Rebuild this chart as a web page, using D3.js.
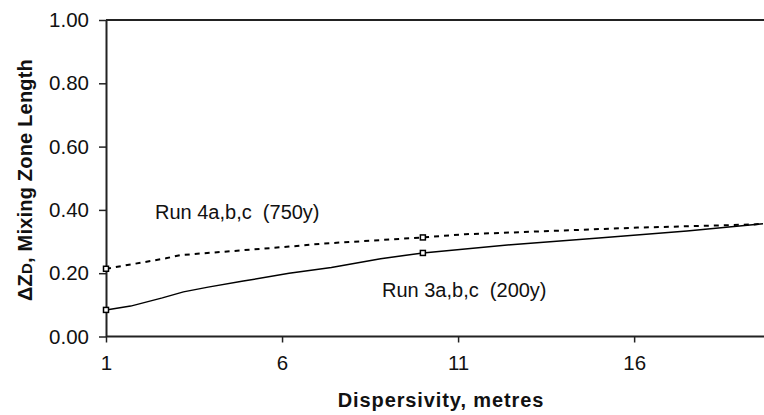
<!DOCTYPE html>
<html>
<head>
<meta charset="utf-8">
<script src="https://cdn.jsdelivr.net/npm/d3@7"></script>
<style>
  body { margin: 0; background: #fff; }
  svg { display: block; font-family: "Liberation Sans", Arial, sans-serif; }
</style>
</head>
<body>
<div id="chart"></div>
<script>
// ---------------- DATA ----------------
const run3X = [1, 1.7, 2.6, 3.2, 3.9, 4.9, 6.2, 7.4, 8.8, 10, 12.5, 15, 17.5, 19.66];
const run3Y = [0.084, 0.096, 0.122, 0.141, 0.156, 0.175, 0.200, 0.218, 0.246, 0.264, 0.290, 0.311, 0.333, 0.356];
const run4X = [1, 2.7, 3.1, 6.2, 7.1, 10, 11.2, 16.1, 19.4, 19.66];
const run4Y = [0.214, 0.247, 0.257, 0.284, 0.293, 0.313, 0.323, 0.344, 0.354, 0.357];
const markerX = [1, 10];
const xTicks = [1, 6, 11, 16];
const yTicks = [0, 0.2, 0.4, 0.6, 0.8, 1.0];
const run3Label = "Run 3a,b,c  (200y)";
const run4Label = "Run 4a,b,c  (750y)";

const run3 = run3X.map((x, i) => ({x, y: run3Y[i]}));
const run4 = run4X.map((x, i) => ({x, y: run4Y[i]}));

// ---------------- LAYOUT ----------------
const width = 764, height = 415;
const margin = {top: 20, right: 1, bottom: 78.5, left: 106};

const x = d3.scaleLinear().domain([1, 19.66]).range([margin.left, width - margin.right]);
const y = d3.scaleLinear().domain([0, 1]).range([height - margin.bottom, margin.top]);

const svg = d3.select("#chart").append("svg")
  .attr("width", width)
  .attr("height", height);

// top border at 1.00
svg.append("line")
  .attr("x1", x(1)).attr("x2", width)
  .attr("y1", y(1)).attr("y2", y(1))
  .attr("stroke", "#222").attr("stroke-width", 2);

// ---------------- AXES ----------------
const xAxis = svg.append("g")
  .attr("transform", `translate(0,${y(0)})`)
  .call(d3.axisBottom(x).tickValues(xTicks).tickSize(6).tickSizeOuter(0).tickPadding(13));

const yAxis = svg.append("g")
  .attr("transform", `translate(${x(1)},0)`)
  .call(d3.axisLeft(y).tickValues(yTicks).tickFormat(d3.format(".2f")).tickSize(7).tickSizeOuter(0).tickPadding(10));

[xAxis, yAxis].forEach(a => {
  a.select(".domain").attr("stroke", "#222").attr("stroke-width", 2);
  a.selectAll(".tick line").attr("stroke", "#222").attr("stroke-width", 1.5);
  a.selectAll(".tick text")
    .attr("fill", "#111")
    .style("font-size", "20.5px")
    .style("font-family", "'Liberation Sans', Arial, sans-serif");
});
xAxis.select(".domain").attr("d", `M${x(1)},0H${width}`);

// ---------------- LINES ----------------
const line = d3.line().x(d => x(d.x)).y(d => y(d.y));

svg.append("path")
  .datum(run3)
  .attr("d", line)
  .attr("fill", "none")
  .attr("stroke", "#000")
  .attr("stroke-width", 1.5);

svg.append("path")
  .datum(run4)
  .attr("d", line)
  .attr("fill", "none")
  .attr("stroke", "#000")
  .attr("stroke-width", 2)
  .attr("stroke-dasharray", "5,5");

// markers
[run3, run4].forEach(series => {
  svg.selectAll(null)
    .data(series.filter(d => markerX.includes(d.x)))
    .enter()
    .append("rect")
    .attr("x", d => x(d.x) - 2.5)
    .attr("y", d => y(d.y) - 2.5)
    .attr("width", 5)
    .attr("height", 5)
    .attr("fill", "#fff")
    .attr("stroke", "#000")
    .attr("stroke-width", 1.5);
});

// ---------------- LABELS ----------------
svg.append("text")
  .attr("x", 155).attr("y", 219)
  .style("font-size", "20px")
  .style("white-space", "pre")
  .attr("fill", "#111")
  .text(run4Label);

svg.append("text")
  .attr("x", 382).attr("y", 297)
  .style("font-size", "20px")
  .style("white-space", "pre")
  .attr("fill", "#111")
  .text(run3Label);

svg.append("text")
  .attr("x", 441)
  .attr("y", 407)
  .attr("text-anchor", "middle")
  .style("font-size", "20px")
  .style("font-weight", "bold")
  .style("letter-spacing", "0.9px")
  .attr("fill", "#111")
  .text("Dispersivity, metres");

const yTitle = svg.append("text")
  .attr("transform", `translate(32,180) rotate(-90)`)
  .attr("text-anchor", "middle")
  .style("font-size", "20px")
  .style("font-weight", "bold")
  .style("letter-spacing", "0.2px")
  .attr("fill", "#111");
yTitle.append("tspan").text("\u0394Z");
yTitle.append("tspan").style("font-size", "15px").text("D");
yTitle.append("tspan").text(", Mixing Zone Length");
</script>
</body>
</html>
